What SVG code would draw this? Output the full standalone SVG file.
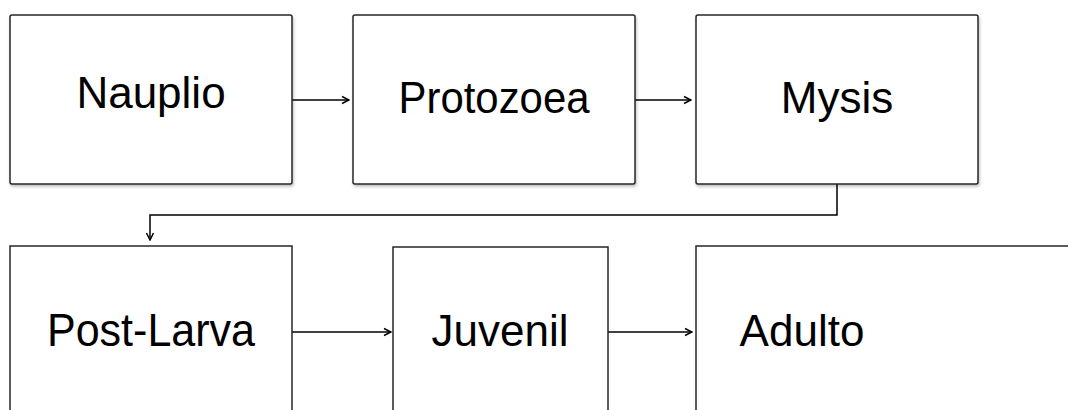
<svg xmlns="http://www.w3.org/2000/svg" width="1068" height="410" viewBox="0 0 1068 410">
<style>
.box{fill:#fff;stroke:#262626;stroke-width:1.5}
.lbl{font-family:"Liberation Sans",Arial,sans-serif;font-size:44px;fill:#000;text-anchor:middle}
.conn{fill:none;stroke:#000;stroke-width:1.5}
</style>
<defs>
<filter id="sh" x="-5%" y="-5%" width="115%" height="120%">
<feDropShadow dx="1" dy="2" stdDeviation="1.5" flood-color="#000" flood-opacity="0.25"/>
</filter>
<marker id="arr" viewBox="0 0 10 10" refX="9" refY="5" markerWidth="10" markerHeight="10" markerUnits="userSpaceOnUse" orient="auto">
<path d="M2,1.5 L9,5 L2,8.5" fill="none" stroke="#000" stroke-width="1.5"/>
</marker>
</defs>
<g id="connectors">
<path class="conn" d="M292,100 H349" marker-end="url(#arr)"/>
<path class="conn" d="M635,100 H691" marker-end="url(#arr)"/>
<path class="conn" d="M837,184 V215 H150 V240" marker-end="url(#arr)"/>
<path class="conn" d="M292,332 H391" marker-end="url(#arr)"/>
<path class="conn" d="M608,332 H692" marker-end="url(#arr)"/>
</g>
<g id="nauplio">
<rect class="box" x="10" y="15" width="282" height="169" rx="2" filter="url(#sh)"/>
<text class="lbl" x="151" y="108">Nauplio</text>
</g>
<g id="protozoea">
<rect class="box" x="353" y="15" width="282" height="169" rx="2" filter="url(#sh)"/>
<text class="lbl" x="494" y="113" textLength="191" lengthAdjust="spacingAndGlyphs">Protozoea</text>
</g>
<g id="mysis">
<rect class="box" x="696" y="15" width="282" height="169" rx="2" filter="url(#sh)"/>
<text class="lbl" x="837" y="113">Mysis</text>
</g>
<g id="post-larva">
<rect class="box" x="10" y="246" width="282" height="200"/>
<text class="lbl" x="151" y="346" style="font-size:46px" textLength="208" lengthAdjust="spacingAndGlyphs">Post-Larva</text>
</g>
<g id="juvenil">
<rect class="box" x="393" y="247" width="215" height="200"/>
<text class="lbl" x="500" y="346">Juvenil</text>
</g>
<g id="adulto">
<rect class="box" x="696" y="246" width="400" height="200"/>
<text class="lbl" x="802" y="346">Adulto</text>
</g>
</svg>
